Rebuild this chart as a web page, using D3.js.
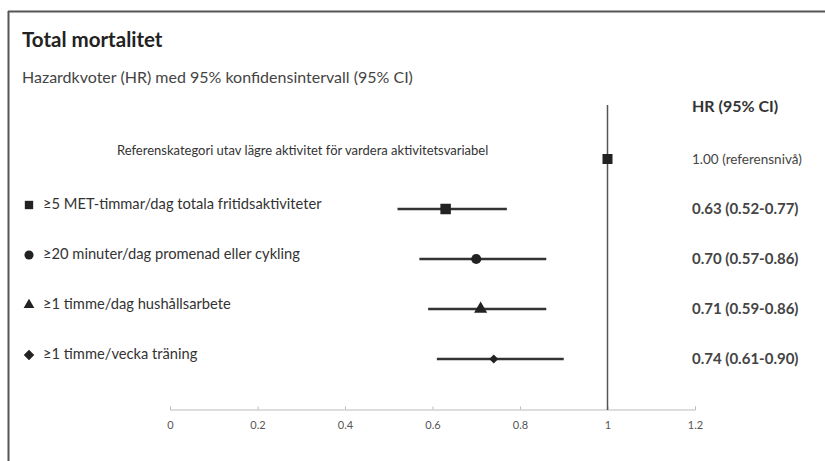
<!DOCTYPE html>
<html>
<head>
<meta charset="utf-8">
<script src="https://cdn.jsdelivr.net/npm/d3@7"></script>
<style>
  body { margin: 0; background: #fff; }
  text { font-family: Lato, "Open Sans", sans-serif; }
</style>
</head>
<body>
<div id="chart"></div>
<script>
// data
const rowKeys = ["ref", "met", "walk", "house", "train"];
const rowLabels = [
    "≥5 MET-timmar/dag totala fritidsaktiviteter",
    "≥20 minuter/dag promenad eller cykling",
    "≥1 timme/dag hushållsarbete",
    "≥1 timme/vecka träning"
];
const rowShapes = ["square", "circle", "triangle", "diamond"];
const hrValues = [0.63, 0.70, 0.71, 0.74];
const ciLow = [0.52, 0.57, 0.59, 0.61];
const ciHigh = [0.77, 0.86, 0.86, 0.90];
const hrLabels = ["0.63 (0.52-0.77)", "0.70 (0.57-0.86)", "0.71 (0.59-0.86)", "0.74 (0.61-0.90)"];
const refValue = 1.0;
const refLabel = "Referenskategori utav lägre aktivitet för vardera aktivitetsvariabel";
const refHrLabel = "1.00 (referensnivå)";
const xTicks = [0, 0.2, 0.4, 0.6, 0.8, 1, 1.2];

const width = 825, height = 461;

const svg = d3.select("#chart").append("svg")
    .attr("width", width)
    .attr("height", height);

// frame: only top and left edges
svg.append("line").attr("x1", 8).attr("x2", width).attr("y1", 11.5).attr("y2", 11.5)
    .attr("stroke", "#555").attr("stroke-width", 2);
svg.append("line").attr("x1", 8.5).attr("x2", 8.5).attr("y1", 11).attr("y2", height)
    .attr("stroke", "#555").attr("stroke-width", 2);

svg.append("text").attr("x", 22).attr("y", 47)
    .attr("font-size", 20.5).attr("font-weight", "bold").attr("fill", "#222")
    .text("Total mortalitet");
svg.append("text").attr("x", 22).attr("y", 83)
    .attr("font-size", 16).attr("fill", "#444")
    .text("Hazardkvoter (HR) med 95% konfidensintervall (95% CI)");

const x = d3.scaleLinear().domain([0, 1.2]).range([170, 695]);
const y = d3.scalePoint().domain(rowKeys).range([159, 359]);

// axis
const axis = svg.append("g")
    .attr("transform", "translate(0,409.5)")
    .call(d3.axisBottom(x).tickValues(xTicks).tickSize(-3).tickPadding(12)
        .tickFormat(d => String(+d.toFixed(1))));
axis.select(".domain").attr("stroke", "#bbb");
axis.selectAll(".tick line").attr("stroke", "#bbb");
axis.selectAll(".tick text").attr("fill", "#555").attr("font-size", 11)
    .attr("font-family", "Liberation Sans, Arial, sans-serif");

// reference line
svg.append("line")
    .attr("x1", x(refValue)).attr("x2", x(refValue))
    .attr("y1", 105).attr("y2", 410)
    .attr("stroke", "#555").attr("stroke-width", 1.5);

// reference row
svg.append("rect")
    .attr("x", x(refValue) - 5).attr("y", y("ref") - 5)
    .attr("width", 10).attr("height", 10).attr("fill", "#222");
svg.append("text").attr("x", 117).attr("y", y("ref") - 4)
    .attr("font-size", 13).attr("fill", "#333").text(refLabel);

// diamond drawn as a square turned 45 degrees
const symbolTypes = {
    square: d3.symbolSquare, circle: d3.symbolCircle,
    triangle: d3.symbolTriangle, diamond: d3.symbolSquare
};
const rotation = {square: 0, circle: 0, triangle: 0, diamond: 45};
const plotSizes = {square: 110, circle: 80, triangle: 75, diamond: 40};
const legendSizes = {square: 70, circle: 65, triangle: 50, diamond: 55};

const rows = svg.append("g").selectAll("g")
    .data(rowLabels)
    .join("g");

rows.append("line")
    .attr("x1", (d, i) => x(ciLow[i])).attr("x2", (d, i) => x(ciHigh[i]))
    .attr("y1", (d, i) => y(rowKeys[i + 1])).attr("y2", (d, i) => y(rowKeys[i + 1]))
    .attr("stroke", "#333").attr("stroke-width", 2.5);

rows.append("path")
    .attr("transform", (d, i) => `translate(${x(hrValues[i])},${y(rowKeys[i + 1])}) rotate(${rotation[rowShapes[i]]})`)
    .attr("d", (d, i) => d3.symbol(symbolTypes[rowShapes[i]], plotSizes[rowShapes[i]])())
    .attr("fill", "#222");

rows.append("path")
    .attr("transform", (d, i) => `translate(29,${y(rowKeys[i + 1]) - 4}) rotate(${rotation[rowShapes[i]]})`)
    .attr("d", (d, i) => d3.symbol(symbolTypes[rowShapes[i]], legendSizes[rowShapes[i]])())
    .attr("fill", "#222");

rows.append("text")
    .attr("x", 43).attr("y", (d, i) => y(rowKeys[i + 1]))
    .attr("font-size", 14.7).attr("fill", "#333")
    .text(d => d);

// HR column
svg.append("text").attr("x", 692).attr("y", 112)
    .attr("font-size", 16).attr("font-weight", "bold").attr("fill", "#333")
    .text("HR (95% CI)");
svg.append("text").attr("x", 692).attr("y", y("ref") + 5)
    .attr("font-size", 13.5).attr("fill", "#444").text(refHrLabel);
rows.append("text")
    .attr("x", 692).attr("y", (d, i) => y(rowKeys[i + 1]) + 5)
    .attr("font-size", 15).attr("font-weight", "bold").attr("fill", "#444")
    .text((d, i) => hrLabels[i]);
</script>
</body>
</html>
